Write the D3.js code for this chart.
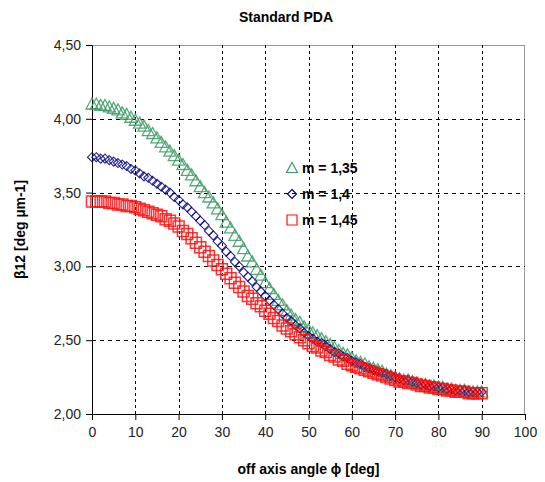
<!DOCTYPE html>
<html>
<head>
<meta charset="utf-8">
<script src="https://cdn.jsdelivr.net/npm/d3@7"></script>
<style>
  body { margin: 0; background: #fff; }
  text { font-family: "Liberation Sans", Arial, sans-serif; }
</style>
</head>
<body>
<svg id="chart" width="545" height="482"></svg>
<script>
// off axis angle, one point per degree
const angles = d3.range(0, 91);

const m135 = [
  4.10, 4.10, 4.09, 4.09, 4.08, 4.07, 4.06, 4.04, 4.03, 4.01, 3.99,
  3.97, 3.95, 3.92, 3.90, 3.87, 3.84, 3.81, 3.78, 3.75, 3.72,
  3.69, 3.65, 3.62, 3.58, 3.54, 3.50, 3.47, 3.43, 3.39, 3.35,
  3.30, 3.26, 3.21, 3.17, 3.12, 3.07, 3.03, 2.98, 2.94, 2.89,
  2.85, 2.81, 2.77, 2.74, 2.70, 2.67, 2.64, 2.62, 2.59, 2.57,
  2.55, 2.53, 2.51, 2.49, 2.47, 2.45, 2.43, 2.41, 2.40, 2.38,
  2.36, 2.35, 2.34, 2.32, 2.31, 2.30, 2.29, 2.27, 2.26, 2.25,
  2.24, 2.23, 2.23, 2.22, 2.21, 2.20, 2.20, 2.19, 2.19, 2.18,
  2.18, 2.17, 2.17, 2.16, 2.16, 2.16, 2.15, 2.15, 2.15, 2.15
];
const m140 = [
  3.74, 3.74, 3.73, 3.73, 3.72, 3.71, 3.70, 3.69, 3.68, 3.66, 3.65,
  3.63, 3.61, 3.60, 3.58, 3.56, 3.54, 3.52, 3.50, 3.47, 3.45,
  3.42, 3.40, 3.37, 3.34, 3.31, 3.28, 3.24, 3.21, 3.17, 3.14,
  3.10, 3.07, 3.03, 3.00, 2.96, 2.93, 2.90, 2.86, 2.83, 2.80,
  2.77, 2.74, 2.71, 2.68, 2.65, 2.63, 2.60, 2.58, 2.55, 2.53,
  2.51, 2.49, 2.48, 2.46, 2.44, 2.42, 2.41, 2.39, 2.38, 2.36,
  2.35, 2.34, 2.32, 2.31, 2.30, 2.29, 2.28, 2.27, 2.26, 2.25,
  2.24, 2.23, 2.23, 2.22, 2.21, 2.20, 2.20, 2.19, 2.19, 2.18,
  2.18, 2.17, 2.17, 2.16, 2.16, 2.16, 2.15, 2.15, 2.15, 2.15
];
const m145 = [
  3.44, 3.44, 3.44, 3.44, 3.43, 3.43, 3.42, 3.42, 3.41, 3.41, 3.40,
  3.39, 3.38, 3.37, 3.36, 3.35, 3.34, 3.32, 3.31, 3.29, 3.27,
  3.24, 3.22, 3.19, 3.16, 3.13, 3.10, 3.07, 3.04, 3.01, 2.98,
  2.95, 2.92, 2.89, 2.86, 2.83, 2.80, 2.78, 2.75, 2.73, 2.70,
  2.68, 2.65, 2.63, 2.60, 2.58, 2.56, 2.54, 2.52, 2.50, 2.48,
  2.46, 2.45, 2.43, 2.42, 2.40, 2.39, 2.37, 2.36, 2.34, 2.33,
  2.32, 2.31, 2.30, 2.29, 2.28, 2.27, 2.26, 2.25, 2.24, 2.23,
  2.22, 2.22, 2.21, 2.21, 2.20, 2.19, 2.19, 2.18, 2.18, 2.17,
  2.17, 2.16, 2.16, 2.15, 2.15, 2.15, 2.14, 2.14, 2.14, 2.14
];

const xTicks = [0, 10, 20, 30, 40, 50, 60, 70, 80, 90, 100];
const yTicks = [2.0, 2.5, 3.0, 3.5, 4.0, 4.5];
const seriesNames = ["m = 1,35", "m = 1,4", "m = 1,45"];

const margin = { top: 45, right: 20, bottom: 68, left: 92 },
    width = 545 - margin.left - margin.right,
    height = 482 - margin.top - margin.bottom;

const svg = d3.select("#chart")
    .append("g")
    .attr("transform", `translate(${margin.left},${margin.top})`);

const x = d3.scaleLinear().domain([0, 100]).range([0, width]);
const y = d3.scaleLinear().domain([2, 4.5]).range([height, 0]);
const fmt = d => d3.format(".2f")(d).replace(".", ",");

// gray frame on top / right
svg.append("line").attr("x1", 0).attr("x2", width).attr("y1", 0.5).attr("y2", 0.5)
    .attr("stroke", "#999");
svg.append("line").attr("x1", width - 0.5).attr("x2", width - 0.5).attr("y1", 0).attr("y2", height)
    .attr("stroke", "#999");

// dashed grid
svg.append("g").selectAll("line")
    .data(xTicks.slice(1, -1))
    .join("line")
    .attr("x1", d => Math.round(x(d)) + 0.5).attr("x2", d => Math.round(x(d)) + 0.5)
    .attr("y1", 0).attr("y2", height)
    .attr("stroke", "#000").attr("stroke-dasharray", "3,3");
svg.append("g").selectAll("line")
    .data(yTicks.slice(1, -1))
    .join("line")
    .attr("x1", 0).attr("x2", width)
    .attr("y1", d => Math.round(y(d)) + 0.5).attr("y2", d => Math.round(y(d)) + 0.5)
    .attr("stroke", "#000").attr("stroke-dasharray", "4,4");

// axes
const xAxis = svg.append("g")
    .attr("transform", `translate(0,${height})`)
    .call(d3.axisBottom(x).tickValues(xTicks).tickSize(6).tickPadding(7));
const yAxis = svg.append("g")
    .call(d3.axisLeft(y).tickValues(yTicks).tickFormat(fmt).tickSize(6).tickPadding(5));
[xAxis, yAxis].forEach(a => {
    a.select(".domain").attr("stroke", "#000");
    a.selectAll("text").attr("font-size", 14).attr("fill", "#222")
        .attr("font-family", "Liberation Sans, Arial, sans-serif");
});

// markers
const triangle = s => `M0,${-s * 0.55}L${s * 0.55},${s * 0.45}L${-s * 0.55},${s * 0.45}Z`;
const diamond = s => `M0,${-s / 2}L${s / 2},0L0,${s / 2}L${-s / 2},0Z`;
const square = s => `M${-s / 2},${-s / 2}h${s}v${s}h${-s}Z`;

const series = [
    { name: seriesNames[0], values: m135, color: "#3d9a66", shape: triangle(11), legendShape: triangle(10), sw: 1.3 },
    { name: seriesNames[1], values: m140, color: "#000080", shape: diamond(9), legendShape: diamond(9), sw: 1.1 },
    { name: seriesNames[2], values: m145, color: "#ff1010", shape: square(11), legendShape: square(10), sw: 1.5 }
];

series.forEach(s => {
    svg.append("g").selectAll("path")
        .data(angles)
        .join("path")
        .attr("d", s.shape)
        .attr("transform", (d, i) => `translate(${x(d)},${y(s.values[i])})`)
        .attr("fill", "none")
        .attr("stroke", s.color)
        .attr("stroke-width", s.sw)
        .attr("opacity", 0.85);
});

// legend
const legend = svg.append("g").attr("transform", "translate(200,123)");
series.forEach((s, i) => {
    const g = legend.append("g").attr("transform", `translate(0,${i * 26})`);
    g.append("path").attr("d", s.legendShape).attr("fill", "none")
        .attr("stroke", s.color).attr("stroke-width", 1.2);
    g.append("text").attr("x", 10).attr("y", 5)
        .attr("font-size", 14).attr("font-weight", "bold").attr("fill", "#000")
        .text(s.name);
});

// title and axis labels
d3.select("#chart").append("text")
    .attr("x", 286).attr("y", 22)
    .attr("text-anchor", "middle")
    .attr("font-size", 14).attr("font-weight", "bold")
    .text("Standard PDA");

d3.select("#chart").append("text")
    .attr("x", margin.left + width / 2).attr("y", 474)
    .attr("text-anchor", "middle")
    .attr("font-size", 14).attr("font-weight", "bold")
    .text("off axis angle ϕ [deg]");

d3.select("#chart").append("text")
    .attr("transform", `translate(25,${margin.top + height / 2}) rotate(-90)`)
    .attr("text-anchor", "middle")
    .attr("font-size", 14).attr("font-weight", "bold")
    .text("β12 [deg µm-1]");
</script>
</body>
</html>
